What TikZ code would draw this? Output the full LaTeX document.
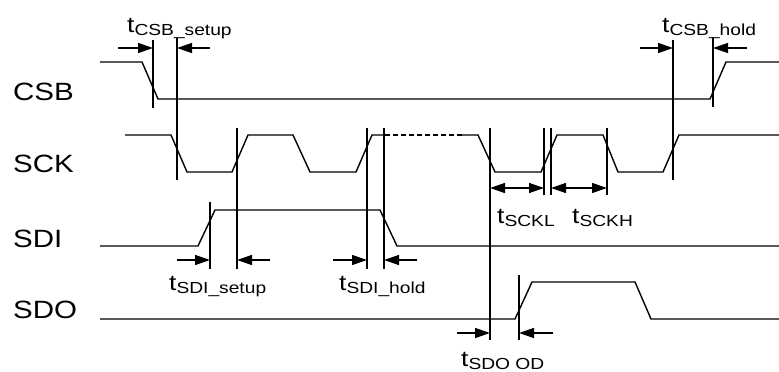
\documentclass[tikz,border=0pt]{standalone}
\usepackage{fontspec}
\setmainfont{Liberation Sans}
\usetikzlibrary{arrows.meta}

\newcommand{\tlab}[1]{\scalebox{1.2}[1]{t\raisebox{-3pt}{\fontsize{16}{16}\selectfont #1}}}

\tikzset{
  wave/.style={line width=1.4pt, line join=miter},
  marker/.style={line width=1.4pt},
  dim/.style={line width=1.4pt, -{Triangle[length=15pt,width=10pt]}},
  dimboth/.style={line width=1.4pt, {Triangle[length=15pt,width=10pt]}-{Triangle[length=15pt,width=10pt]}},
  signame/.style={anchor=base west, inner sep=0pt, font=\fontsize{25}{25}\selectfont},
  tname/.style={anchor=base west, inner sep=0pt, font=\fontsize{22}{22}\selectfont}
}

\begin{document}
\begin{tikzpicture}[x=1pt,y=-1pt]
  \useasboundingbox (0,0) rectangle (779,372);

  % signal names
  \node[signame] (csb) at (13,100) {\scalebox{1.18}[1]{CSB}};
  \node[signame] (sck) at (13,172) {\scalebox{1.18}[1]{SCK}};
  \node[signame] (sdi) at (13,247) {\scalebox{1.18}[1]{SDI}};
  \node[signame] (sdo) at (13,318) {\scalebox{1.18}[1]{SDO}};

  % waveforms
  \draw[wave] (100,62) -- (142,62) -- (158,99) -- (710,99) -- (726,62) -- (779,62);
  \draw[wave] (125,135) -- (171,135) -- (187,172) -- (232,172) -- (248,135)
    -- (293,135) -- (310,172) -- (356,172) -- (372,135) -- (385,135);
  \draw[wave, dash pattern=on 5pt off 3pt] (385,135) -- (462,135);
  \draw[wave] (462,135) -- (478,135) -- (495,172) -- (541,172) -- (557,135)
    -- (603,135) -- (618,172) -- (663,172) -- (679,135) -- (779,135);
  \draw[wave] (100,246) -- (198,246) -- (215,210) -- (380,210) -- (397,246) -- (779,246);
  \draw[wave] (100,319) -- (515,319) -- (532,282) -- (635,282) -- (651,319) -- (779,319);

  % reference lines
  \draw[marker] (153,40) -- (153,108);
  \draw[marker] (177,38) -- (177,180);
  \draw[marker] (673,40) -- (673,180);
  \draw[marker] (713,37) -- (713,107);
  \draw[marker] (210,202) -- (210,269);
  \draw[marker] (237,128) -- (237,269);
  \draw[marker] (367,128) -- (367,269);
  \draw[marker] (384,128) -- (384,269);
  \draw[marker] (490,128) -- (490,340);
  \draw[marker] (544,128) -- (544,195);
  \draw[marker] (551,128) -- (551,195);
  \draw[marker] (607,128) -- (607,195);
  \draw[marker] (519,275) -- (519,340);

  % timing arrows
  \draw[dim] (118,48) -- (153,48);
  \draw[dim] (210,48) -- (177,48);
  \draw[dim] (640,48) -- (673,48);
  \draw[dim] (747,48) -- (713,48);
  \draw[dim] (177,260) -- (210,260);
  \draw[dim] (270,260) -- (237,260);
  \draw[dim] (333,260) -- (367,260);
  \draw[dim] (417,260) -- (384,260);
  \draw[dimboth] (490,188) -- (544,188);
  \draw[dimboth] (551,188) -- (607,188);
  \draw[dim] (457,333) -- (490,333);
  \draw[dim] (553,333) -- (519,333);

  % timing names
  \node[tname] (tcsbsetup) at (127,32) {\tlab{CSB\_setup}};
  \node[tname] (tcsbhold) at (662,32) {\tlab{CSB\_hold}};
  \node[tname] (tsckl) at (497,223) {\tlab{SCKL}};
  \node[tname] (tsckh) at (572,223) {\tlab{SCKH}};
  \node[tname] (tsdisetup) at (169,290) {\tlab{SDI\_setup}};
  \node[tname] (tsdihold) at (339,290) {\tlab{SDI\_hold}};
  \node[tname] (tsdood) at (461,366) {\tlab{SDO OD}};
\end{tikzpicture}
\end{document}
